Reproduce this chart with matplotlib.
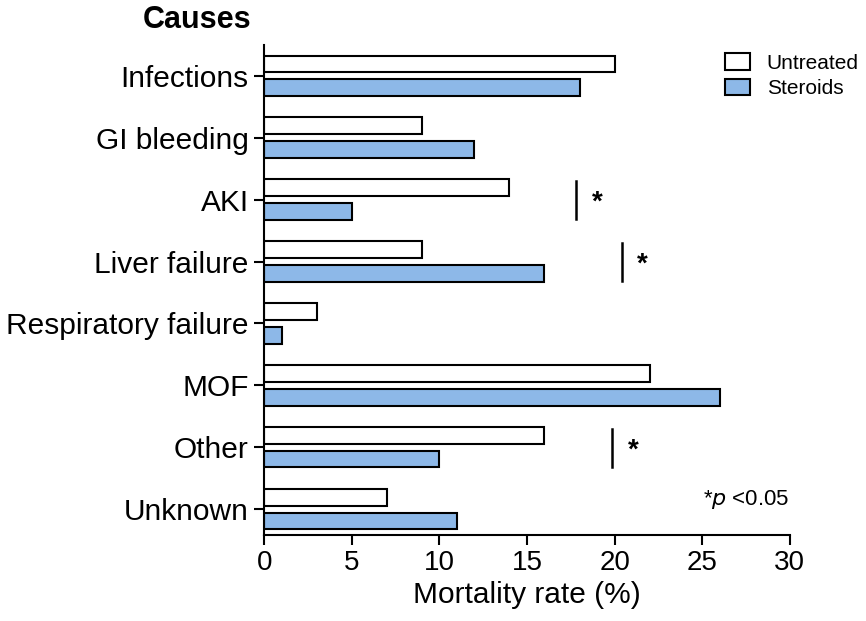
import matplotlib
matplotlib.use("Agg")
import matplotlib.pyplot as plt
import numpy as np

plt.rcParams['font.family'] = ['Liberation Sans', 'DejaVu Sans']

categories = ["Infections", "GI bleeding", "AKI", "Liver failure",
              "Respiratory failure", "MOF", "Other", "Unknown"]
untreated = [20, 9, 14, 9, 3, 22, 16, 7]
steroids = [18, 12, 5, 16, 1, 26, 10, 11]
sig_categories = ["AKI", "Liver failure", "Other"]
sig_x = [17.8, 20.4, 19.85]
xticks = [0, 5, 10, 15, 20, 25, 30]

fig = plt.figure(figsize=(8.66, 6.21), dpi=100)
ax = fig.add_axes([0.305, 0.138, 0.607, 0.79])

y = np.arange(len(categories))
h = 0.27
off = 0.19
ax.barh(y - off, untreated, height=h, color='white', edgecolor='black', linewidth=1.5, label='Untreated')
ax.barh(y + off, steroids, height=h, color='#8DB8E8', edgecolor='black', linewidth=1.5, label='Steroids')

for c, sx in zip(sig_categories, sig_x):
    i = categories.index(c)
    ax.plot([sx, sx], [i - 0.3, i + 0.32], color='black', lw=1.8)
    ax.text(sx + 1.2, i + 0.05, '*', fontsize=20, fontweight='bold', ha='center', va='center')

ax.set_yticks(y)
ax.set_yticklabels(categories, fontsize=21.5)
ax.set_xticks(xticks)
ax.set_xticklabels([str(t) for t in xticks], fontsize=20)
ax.set_xlim(0, 30)
ax.set_ylim(len(categories) - 0.58, -0.5)
ax.set_xlabel('Mortality rate (%)', fontsize=21.5)

for s in ['top', 'right']:
    ax.spines[s].set_visible(False)
for s in ['left', 'bottom']:
    ax.spines[s].set_linewidth(1.5)
ax.tick_params(axis='both', width=1.5, length=7, direction='out')
ax.tick_params(axis='y', pad=4)

ax.legend(loc='upper left', bbox_to_anchor=(725 / 866, 1 - 53 / 621),
          bbox_transform=fig.transFigure, fontsize=15, frameon=False,
          handlelength=1.2, handleheight=0.85, handletextpad=0.8,
          labelspacing=0.3, borderaxespad=0, borderpad=0)

ax.text(30.0, 6.85, r'*$\it{p}$ <0.05', fontsize=16, ha='right', va='center')

fig.text(143 / 866, 1 - 20 / 621, 'Causes', fontsize=22, fontweight='bold', ha='left', va='center')

fig.savefig('out.png', dpi=100)
